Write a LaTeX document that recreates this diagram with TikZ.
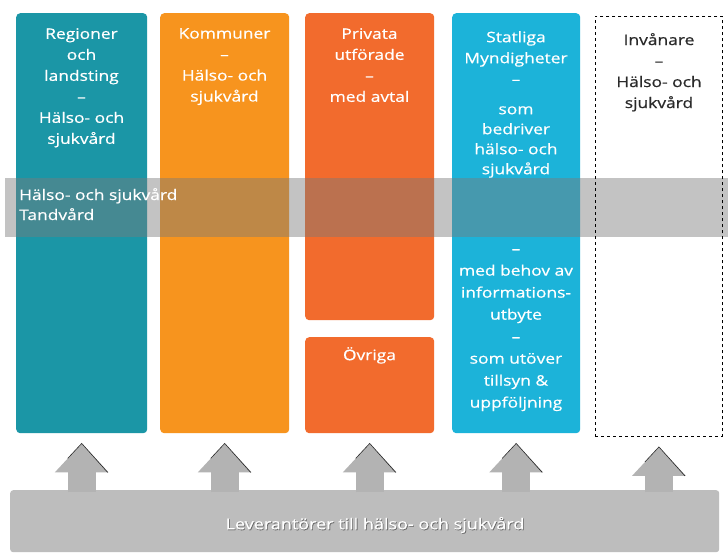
\documentclass[tikz,border=0pt]{standalone}
\usepackage{fontspec}
\setmainfont{Open Sans}[FakeStretch=1.2, FakeBold=0.6]
\usetikzlibrary{arrows.meta,calc}
\definecolor{cteal}{HTML}{1B96A6}
\definecolor{corange}{HTML}{F7941E}
\definecolor{cred}{HTML}{F26B2D}
\definecolor{cblue}{HTML}{1CB3D9}
\definecolor{bandgray}{HTML}{7A7A7A}
\definecolor{botgray}{HTML}{BDBDBD}
\definecolor{arrgray}{HTML}{B3B3B3}
\definecolor{darktext}{HTML}{2A2A2A}
\tikzset{
  colbox/.style={rounded corners=4pt, anchor=north west, inner sep=0pt, draw=none},
  coltext/.style={text=white, align=center, anchor=north, inner sep=0pt, font=\fontsize{14.5}{21}\selectfont},
  uparrow/.style={line width=28pt, draw=arrgray, -{Triangle[width=52pt,length=29pt]}},
}
\begin{document}
\begin{tikzpicture}[x=1pt,y=-1pt]
\fill[white] (0,0) rectangle (728,554);
\useasboundingbox (0,0) rectangle (728,554);

% columns
\node[colbox, fill=cteal, minimum width=131pt, minimum height=420pt] (c1) at (16,13) {};
\node[colbox, fill=corange, minimum width=129pt, minimum height=420pt] (c2) at (160,13) {};
\node[colbox, fill=cred, minimum width=129pt, minimum height=307pt] (c3) at (305,13) {};
\node[colbox, fill=cred, minimum width=129pt, minimum height=96pt] (c3b) at (305,337) {};
\node[colbox, fill=cblue, minimum width=128pt, minimum height=420pt] (c4) at (452,13) {};

% column texts
\node[coltext] (t1) at (81.5,28) {Regioner\\och\\landsting\\–\\Hälso- och\\sjukvård};
\node[coltext] (t2) at (224.5,28) {Kommuner\\–\\Hälso- och\\sjukvård};
\node[coltext] (t3) at (369.5,28) {Privata\\utförade\\–\\med avtal};
\node[coltext] (t3b) at (369.5,347) {Övriga};
\node[coltext] (t4) at (516,31) {Statliga\\Myndigheter\\–\\[9pt]som\\[-1pt]bedriver\\[-1pt]hälso- och\\[-1pt]sjukvård};
\node[coltext, font=\fontsize{14.5}{22}\selectfont] (t4b) at (516,249) {–\\med behov av\\informations-\\utbyte\\–\\som utöver\\tillsyn \&\\uppföljning};

% band
\fill[bandgray, opacity=0.45] (5,178) rectangle (728,237);
\node[text=white, align=left, anchor=north west, inner sep=0pt, font=\fontsize{14.5}{20}\selectfont] (band) at (19,188) {Hälso- och sjukvård\\Tandvård};

% dashed citizens box
\node[colbox, rounded corners=0pt, draw=black, dashed, line width=0.9pt, minimum width=127pt, minimum height=420pt] (c5) at (595,16) {};
\node[coltext, text=darktext] (t5) at (659,33) {Invånare\\–\\Hälso- och\\sjukvård};

% bottom box
\node[colbox, rounded corners=3pt, fill=botgray, minimum width=709pt, minimum height=62pt] (bot) at (10,490) {};
\node[text=black!60, inner sep=0pt, font=\fontsize{15}{16}\selectfont] (botshadow) at (375.8,525.8) {Leverantörer till hälso- och sjukvård};
\node[text=white, inner sep=0pt, font=\fontsize{15}{16}\selectfont] (botlabel) at (375,525) {Leverantörer till hälso- och sjukvård};

% arrows from suppliers to each column
\foreach \c in {c1,c2,c3b,c4,c5}{
  \coordinate (tip-\c) at ([yshift=-10pt]\c.south);
  \draw[uparrow] ([yshift=-2pt]tip-\c |- bot.north) -- (tip-\c);
  \draw[black, line width=0.6pt, opacity=0.8] ($(tip-\c)+(-14,15)$) -- (tip-\c) -- ($(tip-\c)+(26,29)$);
}
\end{tikzpicture}
\end{document}
